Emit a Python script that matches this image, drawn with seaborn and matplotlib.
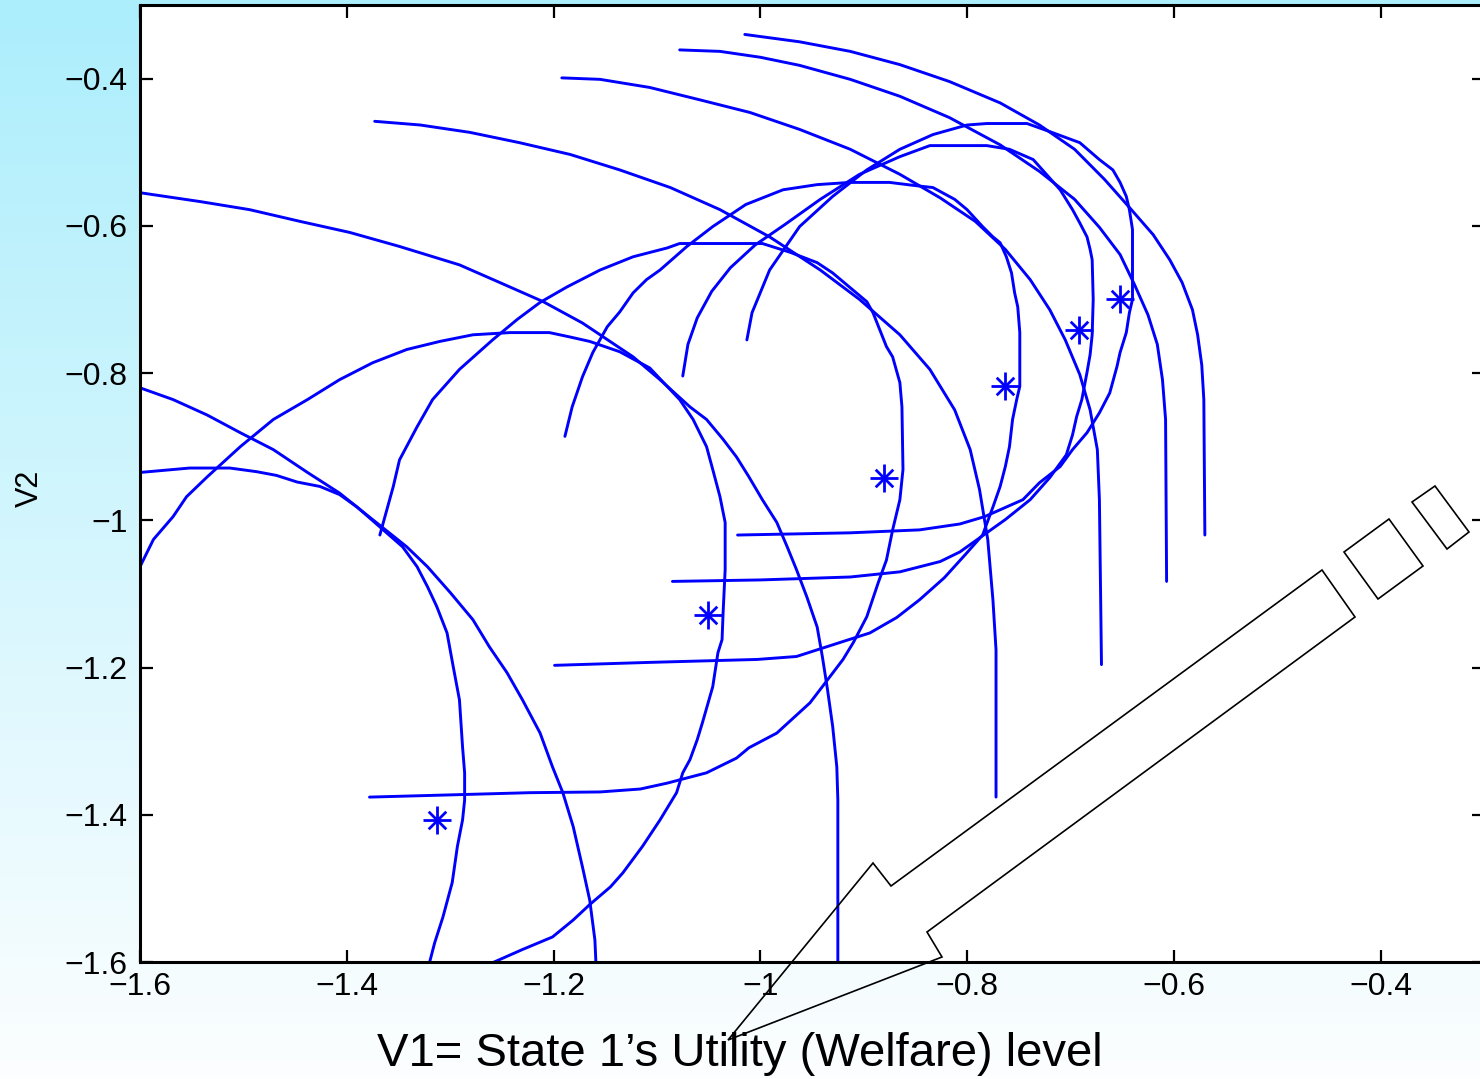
import numpy as np
import matplotlib
matplotlib.use("Agg")
import matplotlib.pyplot as plt
import seaborn as sns
from matplotlib.patches import Polygon
from matplotlib.transforms import Affine2D

# ---------------- data ----------------
x_ticks = [-1.6, -1.4, -1.2, -1.0, -0.8, -0.6, -0.4]
x_tick_labels = ["−1.6", "−1.4", "−1.2", "−1", "−0.8", "−0.6", "−0.4"]
y_ticks = [-1.6, -1.4, -1.2, -1.0, -0.8, -0.6, -0.4]
y_tick_labels = ["−1.6", "−1.4", "−1.2", "−1", "−0.8", "−0.6", "−0.4"]

star_v1 = [-1.313, -1.051, -0.880, -0.763, -0.692, -0.652]
star_v2 = [-1.407, -1.128, -0.943, -0.818, -0.742, -0.699]

loop1_v1 = [-1.61, -1.600, -1.552, -1.513, -1.487, -1.468, -1.448, -1.426, -1.407, -1.390, -1.368, -1.346, -1.332, -1.322,
            -1.313, -1.303, -1.297, -1.291, -1.288, -1.286, -1.286, -1.288, -1.293, -1.298, -1.307, -1.315, -1.320, -1.323]
loop1_v2 = [-0.935, -0.935, -0.929, -0.929, -0.934, -0.939, -0.948, -0.954, -0.965, -0.982, -1.009, -1.036, -1.063, -1.090,
            -1.117, -1.153, -1.199, -1.244, -1.308, -1.343, -1.380, -1.407, -1.443, -1.492, -1.539, -1.574, -1.601, -1.62]

loop2_v1 = [-1.262, -1.259, -1.230, -1.201, -1.181, -1.165, -1.145, -1.133, -1.114, -1.097, -1.081, -1.075, -1.068, -1.061,
            -1.056, -1.046, -1.041, -1.037, -1.036, -1.034, -1.034, -1.039, -1.046, -1.052, -1.065, -1.078, -1.107, -1.136,
            -1.165, -1.184, -1.204, -1.242, -1.278, -1.310, -1.342, -1.375, -1.407, -1.438, -1.471, -1.503, -1.535, -1.555,
            -1.568, -1.587, -1.600, -1.61]
loop2_v2 = [-1.62, -1.601, -1.583, -1.566, -1.543, -1.522, -1.498, -1.479, -1.443, -1.407, -1.370, -1.343, -1.325, -1.298,
            -1.275, -1.226, -1.180, -1.162, -1.126, -1.067, -1.003, -0.968, -0.931, -0.900, -0.863, -0.836, -0.793, -0.771,
            -0.757, -0.751, -0.745, -0.745, -0.748, -0.757, -0.768, -0.786, -0.809, -0.836, -0.863, -0.900, -0.941, -0.968,
            -0.995, -1.026, -1.063, -1.08]

loop3_v1 = [-1.378, -1.300, -1.223, -1.155, -1.116, -1.090, -1.052, -1.023, -1.011, -0.984, -0.952, -0.940, -0.920, -0.910,
            -0.897, -0.886, -0.878, -0.872, -0.865, -0.862, -0.863, -0.865, -0.872, -0.878, -0.891, -0.897, -0.930, -0.945,
            -0.971, -0.998, -1.078, -1.090, -1.123, -1.155, -1.187, -1.213, -1.235, -1.259, -1.291, -1.317, -1.332, -1.349,
            -1.355, -1.368]
loop3_v2 = [-1.376, -1.373, -1.370, -1.369, -1.365, -1.357, -1.343, -1.323, -1.309, -1.289, -1.248, -1.226, -1.189, -1.166,
            -1.131, -1.085, -1.054, -1.013, -0.972, -0.931, -0.846, -0.813, -0.778, -0.764, -0.718, -0.703, -0.664, -0.650,
            -0.636, -0.624, -0.624, -0.630, -0.642, -0.660, -0.683, -0.704, -0.727, -0.755, -0.795, -0.836, -0.873, -0.918,
            -0.954, -1.020]

loop4_v1 = [-1.199, -1.107, -1.003, -0.965, -0.923, -0.894, -0.868, -0.846, -0.822, -0.802, -0.785, -0.775, -0.768, -0.763,
            -0.759, -0.756, -0.752, -0.749, -0.749, -0.751, -0.754, -0.757, -0.762, -0.768, -0.775, -0.785, -0.800, -0.812,
            -0.833, -0.852, -0.875, -0.913, -0.945, -0.978, -1.014, -1.046, -1.071, -1.097, -1.110, -1.123, -1.136, -1.148,
            -1.162, -1.172, -1.182, -1.189]
loop4_v2 = [-1.197, -1.193, -1.189, -1.185, -1.166, -1.153, -1.132, -1.108, -1.078, -1.047, -1.020, -0.982, -0.954, -0.927,
            -0.900, -0.863, -0.836, -0.818, -0.745, -0.710, -0.691, -0.664, -0.642, -0.623, -0.615, -0.601, -0.578, -0.564,
            -0.548, -0.545, -0.541, -0.541, -0.544, -0.551, -0.571, -0.601, -0.628, -0.660, -0.673, -0.691, -0.717, -0.737,
            -0.772, -0.805, -0.846, -0.886]

loop5_v1 = [-1.085, -1.000, -0.913, -0.865, -0.826, -0.807, -0.788, -0.763, -0.739, -0.720, -0.704, -0.698, -0.694, -0.689,
            -0.684, -0.681, -0.679, -0.678, -0.679, -0.681, -0.684, -0.691, -0.698, -0.710, -0.736, -0.759, -0.781, -0.836,
            -0.865, -0.904, -0.942, -0.976, -1.005, -1.029, -1.047, -1.061, -1.070, -1.075]
loop5_v2 = [-1.083, -1.081, -1.077, -1.070, -1.056, -1.043, -1.024, -0.999, -0.972, -0.942, -0.911, -0.884, -0.859, -0.836,
            -0.799, -0.775, -0.748, -0.700, -0.646, -0.632, -0.615, -0.596, -0.578, -0.551, -0.510, -0.496, -0.491, -0.491,
            -0.506, -0.530, -0.564, -0.598, -0.626, -0.657, -0.689, -0.725, -0.761, -0.804]

loop6_v1 = [-1.022, -0.913, -0.846, -0.807, -0.783, -0.746, -0.730, -0.710, -0.698, -0.684, -0.672, -0.662, -0.655, -0.652,
            -0.646, -0.643, -0.640, -0.640, -0.643, -0.646, -0.652, -0.659, -0.672, -0.691, -0.720, -0.742, -0.781, -0.800,
            -0.833, -0.865, -0.897, -0.930, -0.962, -0.991, -1.008, -1.013]
loop6_v2 = [-1.020, -1.017, -1.013, -1.005, -0.995, -0.972, -0.949, -0.927, -0.904, -0.881, -0.854, -0.827, -0.791, -0.772,
            -0.745, -0.718, -0.700, -0.605, -0.578, -0.560, -0.541, -0.524, -0.510, -0.487, -0.472, -0.461, -0.461, -0.463,
            -0.476, -0.496, -0.524, -0.560, -0.601, -0.660, -0.718, -0.755]

arc1_v1 = [-1.61, -1.600, -1.568, -1.535, -1.503, -1.471, -1.438, -1.407, -1.375, -1.342, -1.322, -1.300, -1.278, -1.262,
           -1.245, -1.230, -1.213, -1.201, -1.191, -1.181, -1.172, -1.165, -1.160, -1.159, -1.159]
arc1_v2 = [-0.812, -0.820, -0.836, -0.857, -0.881, -0.904, -0.935, -0.963, -0.999, -1.036, -1.063, -1.098, -1.135, -1.172,
           -1.207, -1.244, -1.289, -1.335, -1.370, -1.416, -1.471, -1.516, -1.570, -1.601, -1.62]

arc2_v1 = [-1.61, -1.600, -1.542, -1.494, -1.445, -1.397, -1.349, -1.291, -1.252, -1.210, -1.172, -1.123, -1.097, -1.068,
           -1.052, -1.036, -1.023, -1.011, -0.998, -0.984, -0.974, -0.965, -0.955, -0.945, -0.940, -0.935, -0.930, -0.926,
           -0.925, -0.925, -0.925]
arc2_v2 = [-0.554, -0.555, -0.567, -0.578, -0.594, -0.609, -0.628, -0.653, -0.677, -0.703, -0.732, -0.778, -0.809, -0.846,
           -0.863, -0.890, -0.914, -0.941, -0.972, -1.003, -1.036, -1.067, -1.104, -1.145, -1.185, -1.230, -1.280, -1.335,
           -1.380, -1.601, -1.62]

arc3_v1 = [-1.373, -1.329, -1.281, -1.233, -1.184, -1.136, -1.087, -1.039, -0.991, -0.942, -0.904, -0.865, -0.836, -0.812,
           -0.797, -0.788, -0.780, -0.775, -0.772, -0.772]
arc3_v2 = [-0.458, -0.463, -0.473, -0.487, -0.503, -0.524, -0.548, -0.578, -0.615, -0.660, -0.700, -0.748, -0.795, -0.850,
           -0.904, -0.958, -1.026, -1.108, -1.176, -1.376]

arc4_v1 = [-1.192, -1.155, -1.107, -1.058, -1.010, -0.962, -0.913, -0.865, -0.826, -0.792, -0.763, -0.739, -0.720, -0.705,
           -0.691, -0.681, -0.674, -0.672, -0.670]
arc4_v2 = [-0.399, -0.401, -0.412, -0.429, -0.446, -0.469, -0.496, -0.530, -0.562, -0.594, -0.632, -0.673, -0.714, -0.755,
           -0.802, -0.850, -0.904, -0.972, -1.196]

arc5_v1 = [-1.078, -1.039, -1.000, -0.962, -0.913, -0.865, -0.817, -0.768, -0.730, -0.696, -0.672, -0.652, -0.638, -0.625,
           -0.616, -0.611, -0.608, -0.607]
arc5_v2 = [-0.361, -0.363, -0.371, -0.382, -0.401, -0.424, -0.453, -0.490, -0.526, -0.564, -0.602, -0.639, -0.680, -0.721,
           -0.761, -0.809, -0.863, -1.083]

arc6_v1 = [-1.015, -0.962, -0.913, -0.865, -0.817, -0.768, -0.730, -0.696, -0.667, -0.643, -0.620, -0.604, -0.592, -0.582,
           -0.577, -0.573, -0.571, -0.570]
arc6_v2 = [-0.340, -0.350, -0.363, -0.381, -0.404, -0.433, -0.463, -0.496, -0.537, -0.575, -0.612, -0.646, -0.677, -0.714,
           -0.748, -0.789, -0.836, -1.020]

x_label = "V1= State 1’s Utility (Welfare) level"
y_label = "V2"

# ---------------- styling ----------------
sns.set_theme(style="white")
plt.rcParams["font.family"] = ["Liberation Sans", "DejaVu Sans"]

W, H = 1480, 1079
fig = plt.figure(figsize=(W / 100, H / 100), dpi=100)

# gradient background (light cyan -> white)
bg = fig.add_axes([0, 0, 1, 1], zorder=0)
t = np.linspace(0, 1, 256)[:, None, None]
top = np.array([172, 238, 252]) / 255.0
bot = np.array([252, 254, 255]) / 255.0
bg.imshow(top + (bot - top) * t, aspect="auto", extent=[0, 1, 0, 1], origin="upper")
bg.set_axis_off()

ax = fig.add_axes([140 / W, 1 - 962 / H, (1484 - 140) / W, (962 - 5) / H], zorder=1)
ax.set_facecolor("white")

blue = "#0000ff"
curves = [(loop1_v1, loop1_v2), (loop2_v1, loop2_v2), (loop3_v1, loop3_v2), (loop4_v1, loop4_v2),
          (loop5_v1, loop5_v2), (loop6_v1, loop6_v2), (arc1_v1, arc1_v2), (arc2_v1, arc2_v2),
          (arc3_v1, arc3_v2), (arc4_v1, arc4_v2), (arc5_v1, arc5_v2), (arc6_v1, arc6_v2)]
for cx, cy in curves:
    sns.lineplot(x=cx, y=cy, sort=False, estimator=None, color=blue, linewidth=2.1, ax=ax)

sns.scatterplot(x=star_v1, y=star_v2, marker="+", s=400, color=blue, linewidth=2.0, ax=ax, zorder=3)
sns.scatterplot(x=star_v1, y=star_v2, marker="x", s=160, color=blue, linewidth=2.0, ax=ax, zorder=3)

ax.set_xlim(-1.6, -0.3)
ax.set_ylim(-1.6, -0.3)
ax.set_xticks(x_ticks)
ax.set_xticklabels(x_tick_labels)
ax.set_yticks(y_ticks)
ax.set_yticklabels(y_tick_labels)
ax.tick_params(axis="both", which="major", direction="in", length=9, width=1.6, color="black",
               labelsize=23, labelcolor="black", top=True, right=True, bottom=True, left=True)
ax.tick_params(axis="x", pad=7)
ax.tick_params(axis="y", pad=9)
for sp in ax.spines.values():
    sp.set_color("black")
    sp.set_linewidth(2.2)
ax.set_xlabel("")
ax.set_ylabel(y_label, fontsize=22, color="black", va="center")
ax.yaxis.set_label_coords((30 - 140) / (1484 - 140), (962 - 488) / (962 - 5))

# x axis caption (placed as in the slide)
fig.text(740 / W, 1 - 1054 / H, x_label, ha="center", va="center", fontsize=34, color="black", zorder=4)

# block arrow annotation (slide drawing, pixel coordinates)
px = Affine2D().scale(1 / W, -1 / H).translate(0, 1) + fig.transFigure
arrow_pts = [(1322, 570), (1355, 617), (927, 932), (942, 957), (728, 1040), (873, 863), (891, 886)]
rect1_pts = [(1344, 552), (1389, 519), (1423, 566), (1378, 599)]
rect2_pts = [(1412, 502), (1435, 486), (1469, 532), (1447, 549)]
for pts in (arrow_pts, rect1_pts, rect2_pts):
    fig.patches.append(Polygon(pts, closed=True, fill=False, edgecolor="black", linewidth=1.2,
                               transform=px, zorder=5))

fig.savefig("out.png", dpi=100)
